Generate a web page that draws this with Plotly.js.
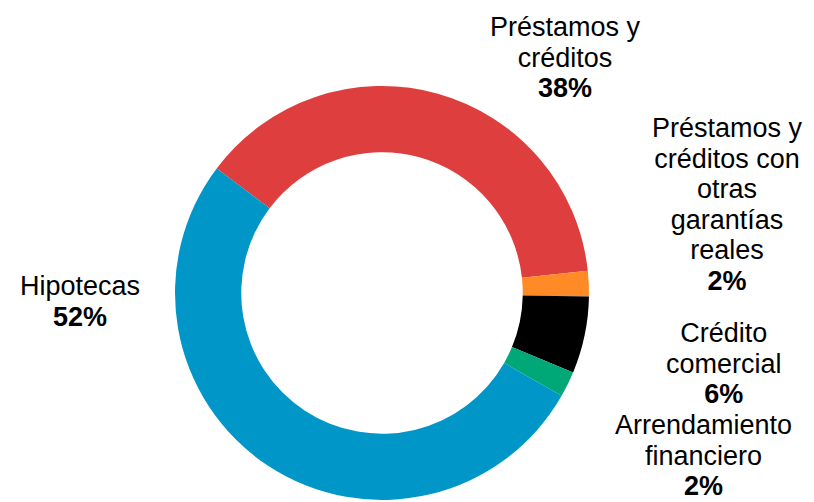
<!DOCTYPE html>
<html>
<head>
<meta charset="utf-8">
<script src="https://cdn.plot.ly/plotly-3.0.1.min.js"></script>
<style>html,body{margin:0;padding:0;background:#fff;}#chart{width:814px;height:502px;}</style>
</head>
<body>
<div id="chart"></div>
<script>
const categories = [
  "Préstamos y<br>créditos",
  "Préstamos y<br>créditos con<br>otras<br>garantías<br>reales",
  "Crédito<br>comercial",
  "Arrendamiento<br>financiero",
  "Hipotecas"
];
const values = [38, 2, 6, 2, 52];
const colors = ["#DE3E3E", "#FF8A26", "#000000", "#00A878", "#0097C8"];

// label centres in pixel space (layout only)
const labelPos = [
  [565, 57],
  [727, 204],
  [724, 363],
  [703, 455],
  [80, 301]
];

const W = 814, H = 502;
const annotations = categories.map((c, i) => ({
  xref: "paper", yref: "paper",
  x: labelPos[i][0] / W, y: 1 - labelPos[i][1] / H,
  xanchor: "center", yanchor: "middle",
  showarrow: false, align: "center",
  text: '<span style="font-size:27px">' + c + '<br><b>' + values[i] + '%</b></span>',
  font: {family: "Liberation Sans, Arial, sans-serif", size: 23.5, color: "#000"}
}));

const cx = 382, cy = 293, r = 207;
Plotly.newPlot("chart", [{
  type: "pie",
  labels: categories,
  values: values,
  hole: 0.68,
  sort: false,
  direction: "clockwise",
  rotation: -53,
  textinfo: "none",
  hoverinfo: "label+percent",
  marker: {colors: colors, line: {width: 0}},
  domain: {x: [(cx - r) / W, (cx + r) / W], y: [1 - (cy + r) / H, 1 - (cy - r) / H]}
}], {
  width: W, height: H,
  margin: {l: 0, r: 0, t: 0, b: 0},
  showlegend: false,
  paper_bgcolor: "#fff",
  annotations: annotations
}, {displayModeBar: false, staticPlot: true});
</script>
</body>
</html>
